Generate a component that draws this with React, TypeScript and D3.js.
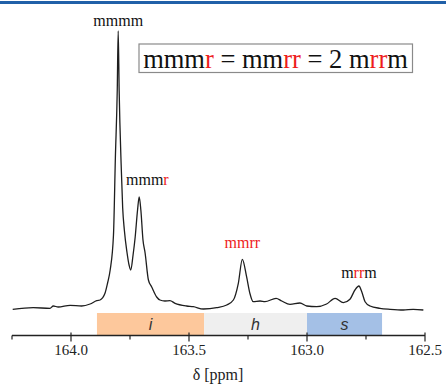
import React from 'react';
import * as d3 from 'd3';

// spectrum: chemical shift (ppm) and intensity above baseline
const shiftPpm = [
  164.247, 164.16, 164.089, 164.075, 164.054, 164.004, 163.955, 163.919, 163.891, 163.877,
  163.856, 163.845, 163.834, 163.82, 163.812, 163.804, 163.8, 163.796, 163.787, 163.781,
  163.774, 163.763, 163.754, 163.747, 163.737, 163.728, 163.718, 163.711, 163.704, 163.695,
  163.686, 163.672, 163.658, 163.637, 163.623, 163.602, 163.581, 163.559, 163.51, 163.482,
  163.439, 163.383, 163.34, 163.312, 163.291, 163.274, 163.256, 163.242, 163.228, 163.199,
  163.178, 163.131, 163.107, 163.072, 163.03, 163.001, 162.959, 162.917, 162.881, 162.846,
  162.818, 162.797, 162.78, 162.768, 162.754, 162.733, 162.691, 162.648, 162.592, 162.55,
  162.507,
];
const intensity = [
  0.7, 2.3, 1.7, 4, 3, 4.7, 4, 6, 9.3, 10,
  16.7, 27, 40, 75, 152, 220, 279, 220, 142, 102,
  80, 58, 45, 40, 55, 73, 100, 113, 100, 70,
  57, 30, 23, 13, 10, 9, 9.3, 6.7, 4, 3.3,
  1, 2.3, 5, 10, 26.7, 50.7, 33.3, 16.7, 8.3, 9,
  8.3, 11.7, 9, 5.7, 7, 4, 3.3, 6, 11.7, 7.3,
  10.7, 20, 24, 18.3, 8.3, 4, 1.7, 0.7, 0, 0.7,
  0,
];

const majorTicks = [164.0, 163.5, 163.0, 162.5];
const minorTicks = [164.25, 163.75, 163.25, 162.75];

const regionNames = ['i', 'h', 's'];
const regionFrom = [163.89, 163.436, 163.0];
const regionTo = [163.436, 163.0, 162.682];
const regionColors = ['#fdc89c', '#efefef', '#a4c0e6'];

// peak labels: text pieces with colours, anchor ppm and height
const peakLabels = [
  { parts: [['mmmm', '#111']], ppm: 163.8, h: 284, anchor: 'middle' },
  { parts: [['mmm', '#111'], ['r', '#ee1c1c']], ppm: 163.767, h: 125, anchor: 'start' },
  { parts: [['mmrr', '#ee1c1c']], ppm: 163.274, h: 62, anchor: 'middle' },
  { parts: [['m', '#111'], ['rr', '#ee1c1c'], ['m', '#111']], ppm: 162.78, h: 32.5, anchor: 'middle' },
];

const ratioParts = [
  ['mmm', '#111'], ['r', '#ee1c1c'], [' = mm', '#111'], ['rr', '#ee1c1c'],
  [' = 2 m', '#111'], ['rr', '#ee1c1c'], ['m', '#111'],
];

const W = 446;
const H = 385;
const serif = 'Liberation Serif, Times New Roman, serif';

export default function App() {
  const x = d3.scaleLinear().domain([164.25, 162.5]).range([12, 425]);
  const y = d3.scaleLinear().domain([0, 280]).range([310, 30]);
  const axisY = 335.5;

  const pts = shiftPpm.map((p, i) => [p, intensity[i]] as [number, number]);
  const line = d3
    .line<[number, number]>()
    .x((d) => x(d[0]))
    .y((d) => y(d[1]))
    .curve(d3.curveMonotoneX);

  return (
    <svg
      width={W}
      height={H}
      style={{ position: 'absolute', left: 0, top: 0, background: '#fff' }}
    >
      <rect x={0} y={0} width={W} height={H} fill="#fff" />
      <rect x={0} y={1} width={W} height={3} fill="#2060a8" />

      {regionNames.map((n, i) => (
        <g key={n}>
          <rect
            x={x(regionFrom[i])}
            y={313}
            width={x(regionTo[i]) - x(regionFrom[i])}
            height={axisY - 313}
            fill={regionColors[i]}
          />
          <text
            x={(x(regionFrom[i]) + x(regionTo[i])) / 2}
            y={330}
            textAnchor="middle"
            style={{ fontFamily: 'Liberation Sans, Arial, sans-serif', fontStyle: 'italic', fontSize: 16 }}
            fill="#333"
          >
            {n}
          </text>
        </g>
      ))}

      <path d={line(pts) || ''} fill="none" stroke="#1e1e1e" strokeWidth={1.3} />

      {peakLabels.map((l, i) => (
        <text
          key={i}
          x={x(l.ppm)}
          y={y(l.h)}
          textAnchor={l.anchor}
          style={{ fontFamily: serif, fontSize: 16 }}
        >
          {l.parts.map(([t, c], j) => (
            <tspan key={j} fill={c}>
              {t}
            </tspan>
          ))}
        </text>
      ))}

      <rect x={139} y={44} width={273.5} height={28.5} fill="#fff" stroke="#8a8a8a" strokeWidth={1.2} />
      <text x={275.5} y={67.5} textAnchor="middle" style={{ fontFamily: serif, fontSize: 26.5 }}>
        {ratioParts.map(([t, c], j) => (
          <tspan key={j} fill={c}>
            {t}
          </tspan>
        ))}
      </text>

      <line x1={x(164.25)} x2={x(162.5)} y1={axisY} y2={axisY} stroke="#222" strokeWidth={1.3} />
      {majorTicks.map((t) => (
        <g key={t}>
          <line x1={x(t)} x2={x(t)} y1={axisY - 3} y2={axisY + 6} stroke="#222" strokeWidth={1.2} />
          <text x={x(t)} y={355} textAnchor="middle" style={{ fontFamily: serif, fontSize: 15 }} fill="#222">
            {d3.format('.1f')(t)}
          </text>
        </g>
      ))}
      {minorTicks.map((t) => (
        <line key={t} x1={x(t)} x2={x(t)} y1={axisY} y2={axisY + 4} stroke="#222" strokeWidth={1.2} />
      ))}
      <text x={218} y={380} textAnchor="middle" style={{ fontFamily: serif, fontSize: 16 }} fill="#222">
        δ [ppm]
      </text>
    </svg>
  );
}
